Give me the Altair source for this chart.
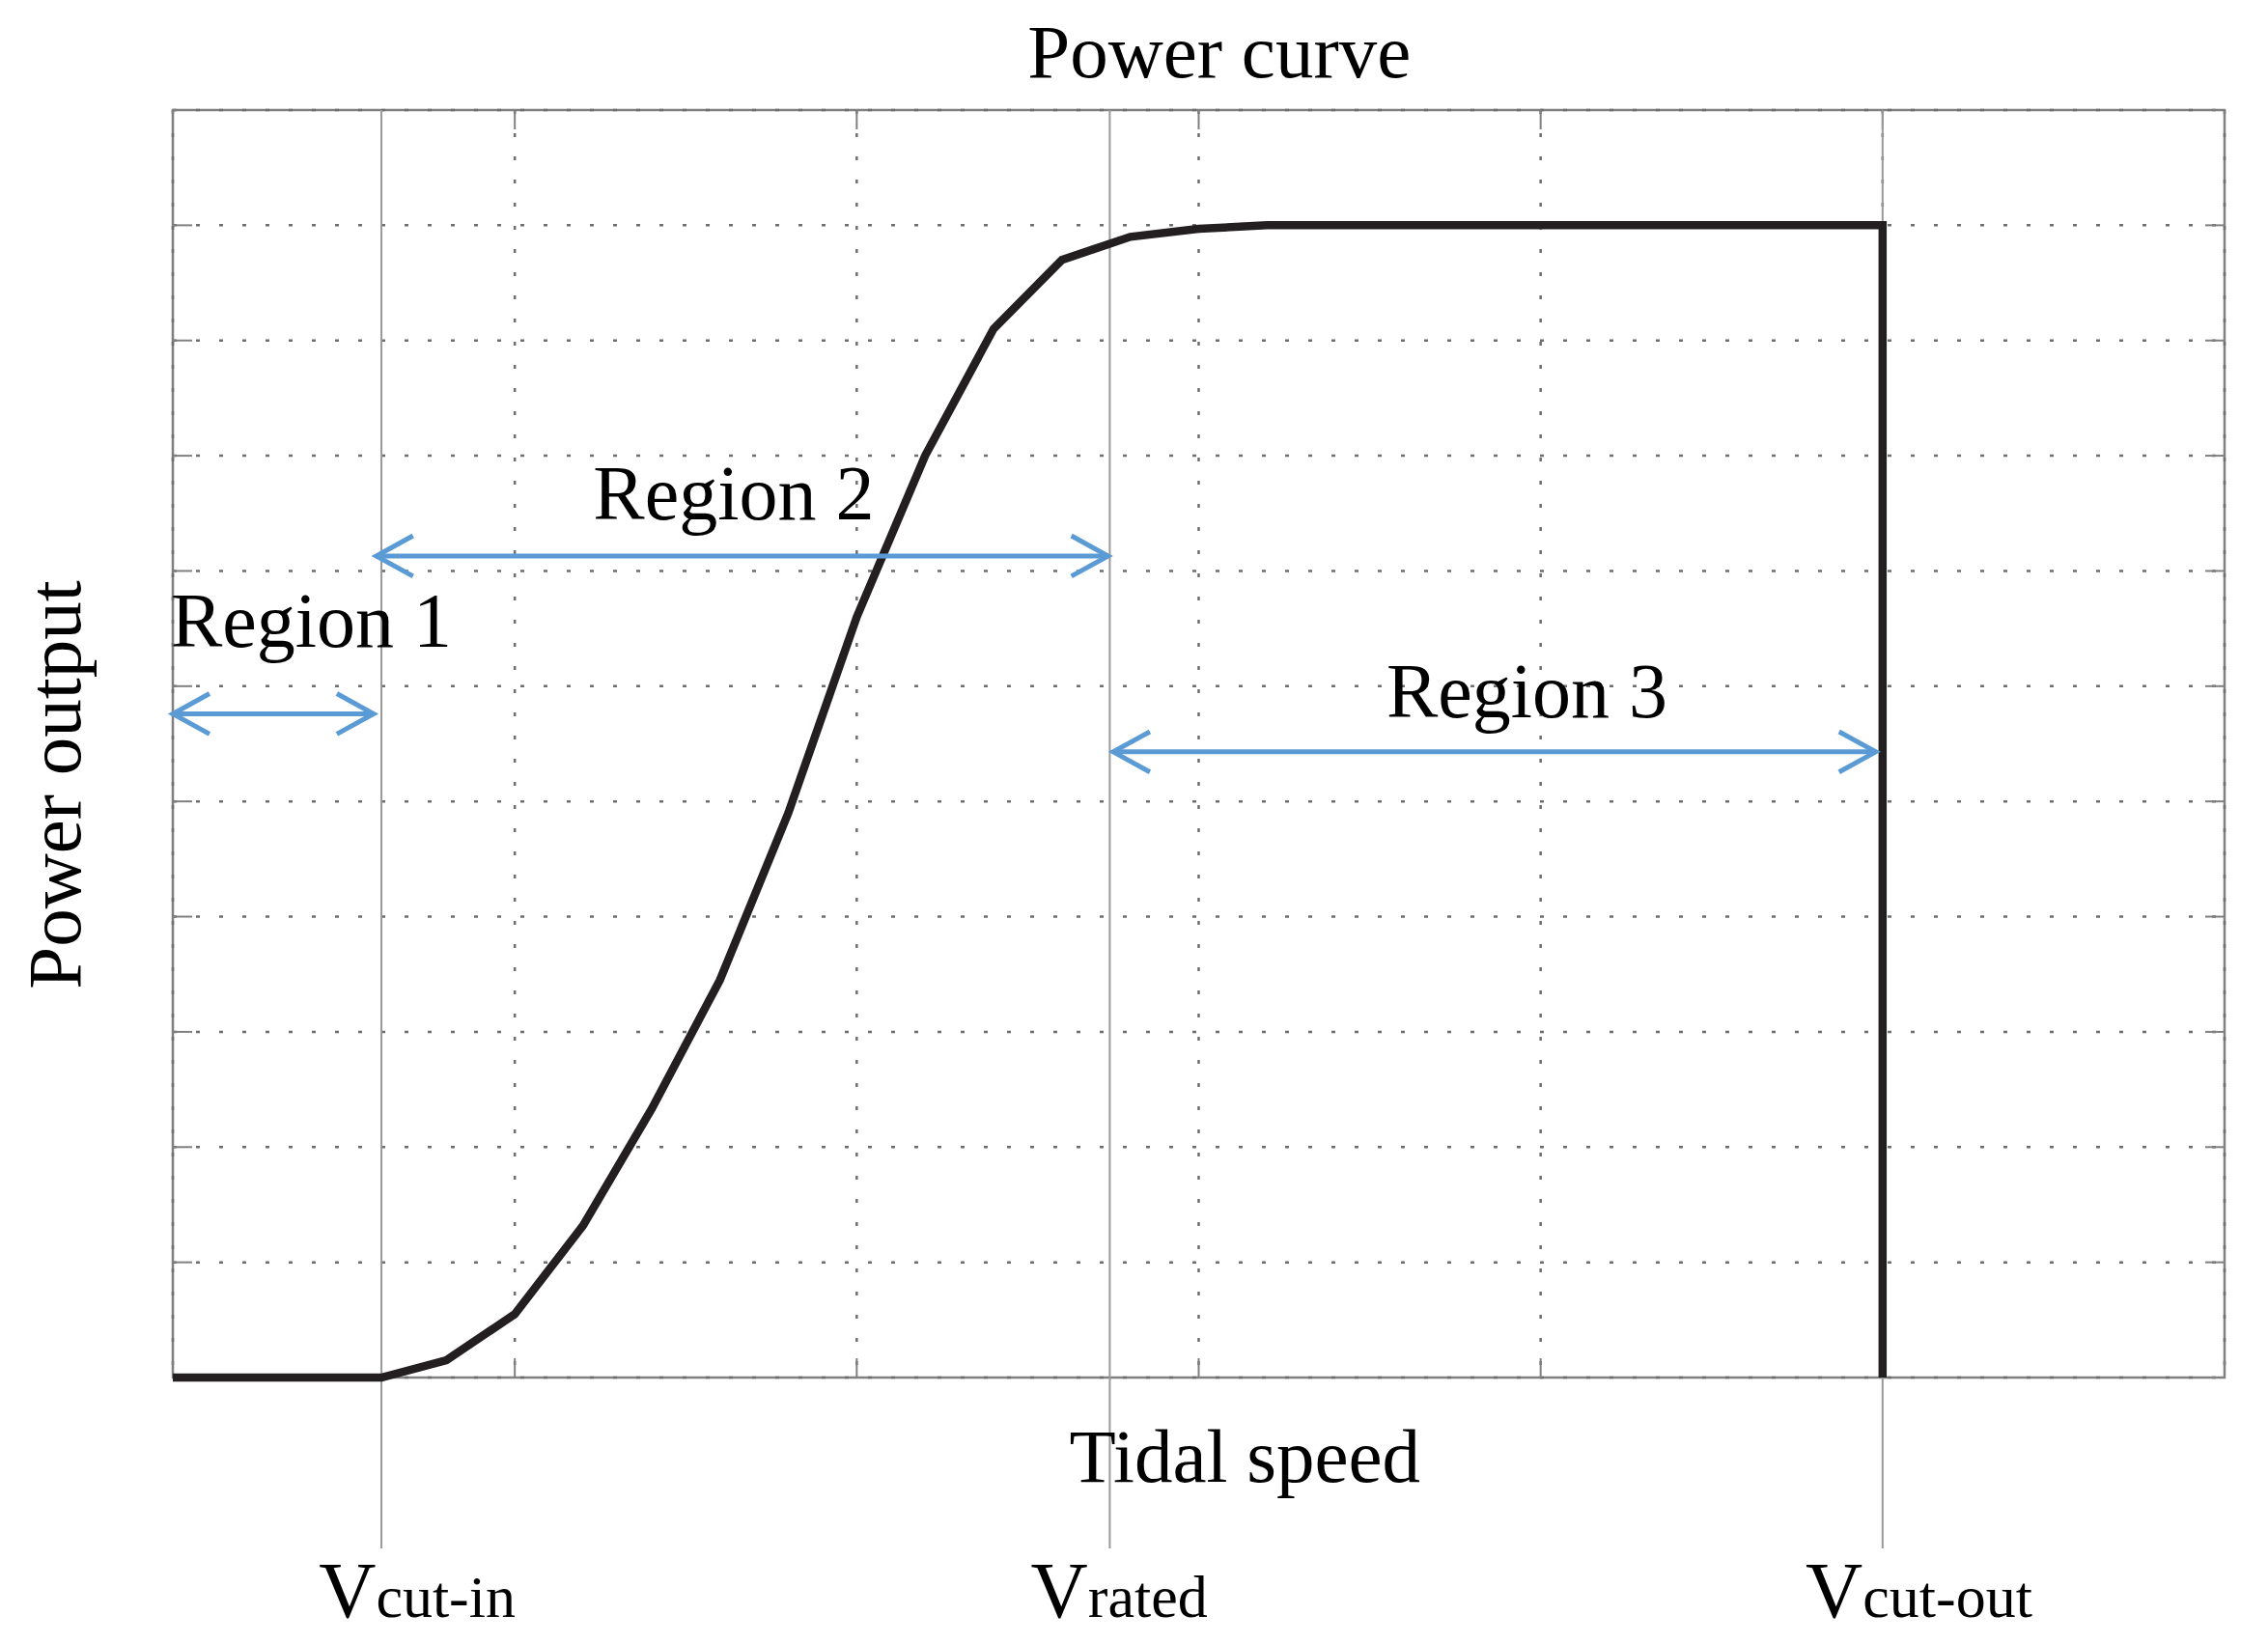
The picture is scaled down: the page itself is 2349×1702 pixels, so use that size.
import altair as alt
import pandas as pd

# ---- data ----
speed = [0.0, 0.61, 0.8, 1.0, 1.2, 1.4, 1.6, 1.8, 2.0, 2.2, 2.4, 2.6, 2.8, 3.0, 3.2, 5.0, 5.0]
power = [0.0, 0.0, 0.15, 0.55, 1.32, 2.33, 3.45, 4.9, 6.6, 8.0, 9.1, 9.7, 9.9, 9.97, 10.0, 10.0, 0.0]

marker_x = [0.61, 2.74, 5.0]
marker_label_x = [0.594, 2.676, 4.942]
marker_main = ["V", "V", "V"]
marker_sub = ["cut-in", "rated", "cut-out"]

region_names = ["Region 1", "Region 2", "Region 3"]
region_x = [0.405, 1.64, 3.96]
region_y = [6.34, 7.45, 5.73]

arrow_start = [0.0, 0.595, 2.75]
arrow_end = [0.587, 2.735, 4.98]
arrow_y = [5.76, 7.13, 5.43]

grid_x = [0, 1, 2, 3, 4, 5, 6]
grid_y = [0, 1, 2, 3, 4, 5, 6, 7, 8, 9, 10, 11]

title_text = "Power curve"
x_title = "Tidal speed"
y_title = "Power output"
title_x = 3.06
x_title_x = 3.135

# ---- layout / style ----
W, H = 2125, 1313
FONT = "Liberation Serif"
BLUE = "#5b9bd5"
GRAY = "#808080"
DOT = "#6e6e6e"

curve_df = pd.DataFrame({"speed": speed, "power": power, "order": list(range(len(speed)))})
marker_df = pd.DataFrame({"x": marker_x, "lx": marker_label_x, "main": marker_main, "sub": marker_sub})
region_df = pd.DataFrame({"name": region_names, "x": region_x, "y": region_y})
arrow_df = pd.DataFrame({"x1": arrow_start, "x2": arrow_end, "y": arrow_y})
gx_df = pd.DataFrame({"g": grid_x})
gy_df = pd.DataFrame({"g": grid_y})
title_df = pd.DataFrame({"x": [title_x], "t": [title_text]})
xt_df = pd.DataFrame({"x": [x_title_x], "t": [x_title]})
yt_df = pd.DataFrame({"t": [y_title]})

xs = alt.Scale(domain=[0, 6], nice=False, zero=False)
ys = alt.Scale(domain=[0, 11], nice=False, zero=False)

# dotted grid
grid_v = alt.Chart(gx_df).mark_rule(color=DOT, strokeWidth=2.5, strokeDash=[4, 20]).encode(
    x=alt.X("g:Q", scale=xs, axis=None), y=alt.value(0), y2=alt.value(H))
grid_h = alt.Chart(gy_df).mark_rule(color=DOT, strokeWidth=2.5, strokeDash=[4, 20]).encode(
    y=alt.Y("g:Q", scale=ys, axis=None), x=alt.value(0), x2=alt.value(W))

# inside ticks
tick_len = 20
ticks_bottom = alt.Chart(gx_df).mark_rule(color=GRAY, strokeWidth=2).encode(
    x=alt.X("g:Q", scale=xs, axis=None), y=alt.value(H), y2=alt.value(H - tick_len))
ticks_top = alt.Chart(gx_df).mark_rule(color=GRAY, strokeWidth=2).encode(
    x=alt.X("g:Q", scale=xs, axis=None), y=alt.value(0), y2=alt.value(tick_len))
ticks_left = alt.Chart(gy_df).mark_rule(color=GRAY, strokeWidth=2).encode(
    y=alt.Y("g:Q", scale=ys, axis=None), x=alt.value(0), x2=alt.value(tick_len))
ticks_right = alt.Chart(gy_df).mark_rule(color=GRAY, strokeWidth=2).encode(
    y=alt.Y("g:Q", scale=ys, axis=None), x=alt.value(W), x2=alt.value(W - tick_len))

markers = alt.Chart(marker_df).mark_rule(color="#999999", strokeWidth=2).encode(
    x=alt.X("x:Q", scale=xs, axis=None), y=alt.value(0), y2=alt.value(H + 177))

curve = alt.Chart(curve_df).mark_line(color="#231f20", strokeWidth=8.5, strokeJoin="miter").encode(
    x=alt.X("speed:Q", scale=xs, axis=None),
    y=alt.Y("power:Q", scale=ys, axis=None),
    order="order:Q",
)

marker_v = alt.Chart(marker_df).mark_text(font=FONT, fontSize=82, align="right",
                                          baseline="alphabetic", color="black").encode(
    x=alt.X("lx:Q", scale=xs, axis=None), y=alt.value(H + 248), text="main:N")
marker_s = alt.Chart(marker_df).mark_text(font=FONT, fontSize=62, align="left",
                                          baseline="alphabetic", color="black").encode(
    x=alt.X("lx:Q", scale=xs, axis=None), y=alt.value(H + 248), text="sub:N")

shafts = alt.Chart(arrow_df).mark_rule(color=BLUE, strokeWidth=5).encode(
    x=alt.X("x1:Q", scale=xs, axis=None), x2="x2:Q", y=alt.Y("y:Q", scale=ys, axis=None))
head_r = alt.Chart(arrow_df).mark_point(shape="M -1 -0.55 L 0 0 L -1 0.55", size=5776, filled=False,
                                        stroke=BLUE, strokeWidth=5, opacity=1).encode(
    x=alt.X("x2:Q", scale=xs, axis=None), y=alt.Y("y:Q", scale=ys, axis=None))
head_l = alt.Chart(arrow_df).mark_point(shape="M 1 -0.55 L 0 0 L 1 0.55", size=5776, filled=False,
                                        stroke=BLUE, strokeWidth=5, opacity=1).encode(
    x=alt.X("x1:Q", scale=xs, axis=None), y=alt.Y("y:Q", scale=ys, axis=None))

regions = alt.Chart(region_df).mark_text(font=FONT, fontSize=80, align="center",
                                         baseline="alphabetic", color="black").encode(
    x=alt.X("x:Q", scale=xs, axis=None), y=alt.Y("y:Q", scale=ys, axis=None), text="name:N")

title = alt.Chart(title_df).mark_text(font=FONT, fontSize=79, align="center",
                                      baseline="alphabetic", color="black").encode(
    x=alt.X("x:Q", scale=xs, axis=None), y=alt.value(-34), text="t:N")
xtitle = alt.Chart(xt_df).mark_text(font=FONT, fontSize=79, align="center",
                                    baseline="alphabetic", color="black").encode(
    x=alt.X("x:Q", scale=xs, axis=None), y=alt.value(H + 108), text="t:N")
ytitle = alt.Chart(yt_df).mark_text(font=FONT, fontSize=79, align="center", angle=270,
                                    baseline="alphabetic", color="black").encode(
    x=alt.value(-96), y=alt.value(699), text="t:N")

chart = alt.layer(
    grid_v, grid_h, ticks_bottom, ticks_top, ticks_left, ticks_right, markers, curve,
    shafts, head_r, head_l, regions, marker_v, marker_s, title, xtitle, ytitle,
).properties(
    width=W, height=H,
    autosize=alt.AutoSizeParams(type="none"),
    padding={"left": 171, "top": 106, "right": 37, "bottom": 267},
).configure_view(stroke=GRAY, strokeWidth=2.5)

chart.save("out.html", embed_options={"renderer": "svg", "actions": False})
